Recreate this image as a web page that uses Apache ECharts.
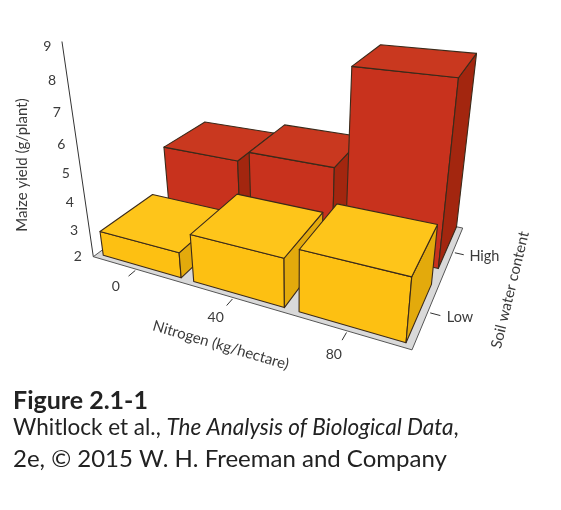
<!DOCTYPE html>
<html>
<head>
<meta charset="utf-8">
<script src="https://cdn.jsdelivr.net/npm/echarts@6/dist/echarts.min.js"></script>
<style>
  html, body { margin: 0; padding: 0; background: #fff; }
  #chart { width: 561px; height: 510px; }
</style>
</head>
<body>
<div id="chart"></div>
<script>
// values (maize yield, g/plant)
var nitrogen = ['0', '40', '80'];
var water = ['Low', 'High'];
var yieldLow = [2.9, 3.65, 4.05];
var yieldHigh = [4.4, 4.8, 8.15];
var yieldTicks = [2, 3, 4, 5, 6, 7, 8, 9];

// perspective of the original drawing: three vanishing points + scale factors
var VIEW = {
  o: [93.3, 256.7],
  vx: [-1079, -86], vd: [611, -128], vz: [294, 1635],
  kx: -0.07125, kd: 0.1345, kz: -0.018888,
  base: 2
};
// depth span of each water row, width of a nitrogen bar
var ROWS = [[0.06, 0.9], [1.17, 2.0]];
var BAR = [0.07, 0.94];

var FONT = 'Lato, "Open Sans", sans-serif';
var INK = '#3a3a3a';
var EDGE = '#3b2a1a';

function project(X, D, v) {
  var Z = v - VIEW.base;
  var w = 1 + X * VIEW.kx + D * VIEW.kd + Z * VIEW.kz;
  var x = VIEW.o[0] + X * VIEW.kx * VIEW.vx[0] + D * VIEW.kd * VIEW.vd[0] + Z * VIEW.kz * VIEW.vz[0];
  var y = VIEW.o[1] + X * VIEW.kx * VIEW.vx[1] + D * VIEW.kd * VIEW.vd[1] + Z * VIEW.kz * VIEW.vz[1];
  return [x / w, y / w];
}

function bars(row, colors) {
  return function (params, api) {
    var i = api.value(0), v = api.value(1), b = VIEW.base;
    var x0 = i + BAR[0], x1 = i + BAR[1];
    var d0 = ROWS[row][0], d1 = ROWS[row][1];
    var P = function (X, D, val) { return api.coord(project(X, D, val)); };
    var faces = [
      [[P(x0, d0, b), P(x1, d0, b), P(x1, d0, v), P(x0, d0, v)], colors[0]],
      [[P(x1, d0, b), P(x1, d1, b), P(x1, d1, v), P(x1, d0, v)], colors[1]],
      [[P(x0, d0, v), P(x1, d0, v), P(x1, d1, v), P(x0, d1, v)], colors[2]]
    ];
    return {
      type: 'group',
      children: faces.map(function (f) {
        return {
          type: 'polygon',
          shape: { points: f[0] },
          style: { fill: f[1], stroke: EDGE, lineWidth: 1.1, lineJoin: 'round' }
        };
      })
    };
  };
}

function angle(a, b) {
  return -Math.atan2(b[1] - a[1], b[0] - a[0]);
}

var chart = echarts.init(document.getElementById('chart'));
chart.setOption({
  animation: false,
  grid: { left: 0, right: 0, top: 0, bottom: 0 },
  xAxis: { type: 'value', min: 0, max: 561, show: false },
  yAxis: { type: 'value', min: 0, max: 510, inverse: true, show: false },
  graphic: [
    { type: 'text', left: 13, top: 388, style: { text: 'Figure 2.1-1', font: 'bold 25px ' + FONT, fill: '#222' } },
    { type: 'text', left: 13, top: 416, style: {
      text: '{n|Whitlock et al., }{i|The Analysis of Biological Data}{n|,}',
      rich: { n: { font: '22.5px ' + FONT, fill: '#222' }, i: { font: 'italic 22.5px ' + FONT, fill: '#222' } }
    } },
    { type: 'text', left: 13, top: 447, style: { text: '2e, \u00a9 2015 W. H. Freeman and Company', font: '24px ' + FONT, fill: '#222' } }
  ],
  series: [
    {
      // floor, vertical axis and axis titles
      type: 'custom', z: 1, silent: true,
      data: [[0, 0]],
      renderItem: function (params, api) {
        var b = VIEW.base;
        var P = function (X, D, val) { return api.coord(project(X, D, val)); };
        var front = angle(P(0, 0, b), P(3, 0, b));
        var side = angle(P(3.55, 0, b), P(3.55, 2, b));
        var nt = P(1.7, -0.57, b), wt = P(3.55, 1.1, b);
        return {
          type: 'group',
          children: [
            { type: 'polygon', shape: { points: [P(0, 0, b), P(3, 0, b), P(3, 2, b), P(0, 2, b)] },
              style: { fill: '#d9d9d9', stroke: '#555', lineWidth: 1 } },
            { type: 'line', shape: { x1: P(0, 0, b)[0], y1: P(0, 0, b)[1], x2: P(0, 0, 9.15)[0], y2: P(0, 0, 9.15)[1] },
              style: { stroke: '#333', lineWidth: 1 } },
            { type: 'text', x: nt[0], y: nt[1], rotation: front,
              style: { text: 'Nitrogen (kg/hectare)', font: '15px ' + FONT, fill: INK, align: 'center', verticalAlign: 'middle' } },
            { type: 'text', x: wt[0], y: wt[1], rotation: side,
              style: { text: 'Soil water content', font: '15px ' + FONT, fill: INK, align: 'center', verticalAlign: 'middle' } },
            { type: 'text', x: 22, y: 165, rotation: Math.PI / 2,
              style: { text: 'Maize yield (g/plant)', font: '15px ' + FONT, fill: INK, align: 'center', verticalAlign: 'middle' } }
          ]
        };
      }
    },
    {
      name: 'High', type: 'custom', z: 2, silent: true,
      data: yieldHigh.map(function (v, i) { return [i, v]; }),
      renderItem: bars(1, ['#c8321d', '#a3260f', '#c9381f'])
    },
    {
      name: 'Low', type: 'custom', z: 3, silent: true,
      data: yieldLow.map(function (v, i) { return [i, v]; }),
      renderItem: bars(0, ['#fdc012', '#e3aa0c', '#fec51a'])
    },
    {
      // yield axis labels
      type: 'custom', z: 4, silent: true,
      data: yieldTicks.map(function (v) { return [0, v]; }),
      renderItem: function (params, api) {
        var p = api.coord(project(0, 0, api.value(1)));
        return { type: 'text', style: { text: String(api.value(1)), x: p[0] - 15.5, y: p[1],
          font: '14px ' + FONT, fill: INK, align: 'center', verticalAlign: 'middle' } };
      }
    },
    {
      // nitrogen ticks
      type: 'custom', z: 4, silent: true,
      data: nitrogen.map(function (n, i) { return [i, 0]; }),
      renderItem: function (params, api) {
        var i = api.value(0), b = VIEW.base, X = i + 0.5;
        var a = api.coord(project(X, -0.02, b)), c = api.coord(project(X, -0.12, b));
        var t = api.coord(project(X, -0.3, b));
        return { type: 'group', children: [
          { type: 'line', shape: { x1: a[0], y1: a[1], x2: c[0], y2: c[1] }, style: { stroke: '#333', lineWidth: 1 } },
          { type: 'text', style: { text: nitrogen[i], x: t[0], y: t[1], font: '14px ' + FONT, fill: INK,
            align: 'center', verticalAlign: 'middle' } }
        ] };
      }
    },
    {
      // water ticks
      type: 'custom', z: 4, silent: true,
      data: water.map(function (w, i) { return [i, 0]; }),
      renderItem: function (params, api) {
        var i = api.value(0), b = VIEW.base, D = i + 0.5;
        var a = api.coord(project(3.02, D, b)), c = api.coord(project(3.1, D, b));
        var t = api.coord(project(3.15, D, b));
        return { type: 'group', children: [
          { type: 'line', shape: { x1: a[0], y1: a[1], x2: c[0], y2: c[1] }, style: { stroke: '#333', lineWidth: 1 } },
          { type: 'text', style: { text: water[i], x: t[0], y: t[1], font: '14.5px ' + FONT, fill: INK,
            align: 'left', verticalAlign: 'middle' } }
        ] };
      }
    }
  ]
});
</script>
</body>
</html>
